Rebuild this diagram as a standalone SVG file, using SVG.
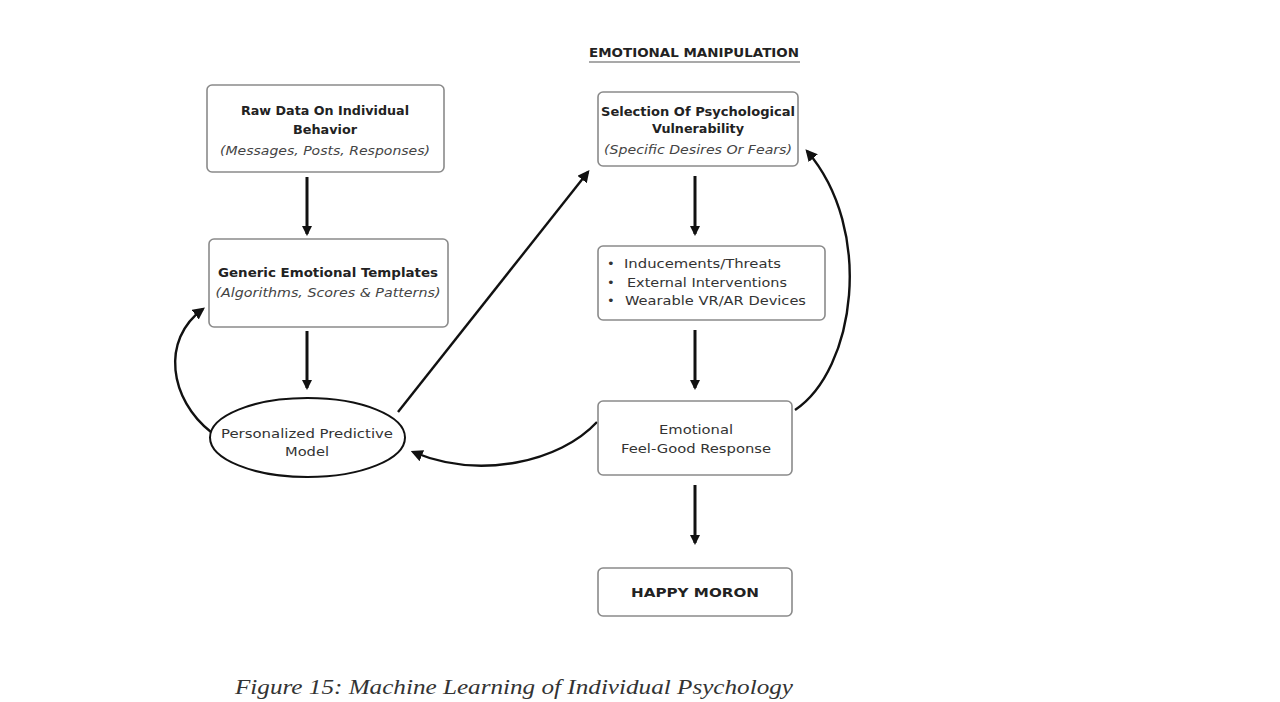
<svg xmlns="http://www.w3.org/2000/svg" width="1280" height="702" viewBox="0 0 1280 702">
<defs>
<marker id="ah" viewBox="0 0 10 10" refX="8" refY="5" markerWidth="3.4" markerHeight="3.4" orient="auto" markerUnits="strokeWidth">
<path d="M0,0 L10,5 L0,10 z" fill="#111"/>
</marker>
<marker id="ah2" viewBox="0 0 10 10" refX="8" refY="5" markerWidth="5" markerHeight="5" orient="auto" markerUnits="strokeWidth">
<path d="M0,0 L10,5 L0,10 z" fill="#111"/>
</marker>
<style>
.box{fill:#fff;stroke:#8a8a8a;stroke-width:1.6}
.t{font-family:"DejaVu Sans",sans-serif;font-size:13px;fill:#333;text-anchor:middle}
.s{font-family:"DejaVu Sans",sans-serif;font-size:13px;fill:#333;text-anchor:start}
.b{font-weight:bold;fill:#222}
.i{font-style:italic;fill:#444}
.c{fill:none;stroke:#111;stroke-width:3;marker-end:url(#ah)}
.cc{fill:none;stroke:#111;stroke-width:2.4;marker-end:url(#ah2)}
</style>
</defs>
<rect width="1280" height="702" fill="#fff"/>
<g id="title">
<text class="t b" x="694" y="57" font-size="14" textLength="210" lengthAdjust="spacingAndGlyphs">EMOTIONAL MANIPULATION</text>
<line x1="589" y1="62" x2="800" y2="62" stroke="#555" stroke-width="1.2"/>
</g>
<g id="connectors">
<line class="c" x1="307" y1="177" x2="307" y2="234"/>
<line class="c" x1="307" y1="331" x2="307" y2="388"/>
<path class="cc" d="M211,432 C170,400 160,340 203,309"/>
<line class="cc" x1="398" y1="412" x2="588" y2="172"/>
<line class="c" x1="695" y1="176" x2="695" y2="234"/>
<line class="c" x1="695" y1="330" x2="695" y2="388"/>
<path class="cc" d="M795,410 C855,370 875,230 807,151"/>
<path class="cc" d="M597,422 C560,462 480,480 413,452"/>
<line class="c" x1="695" y1="485" x2="695" y2="543"/>
</g>
<g id="raw-data">
<rect class="box" x="207" y="85" width="237" height="87" rx="5"/>
<text class="t b" x="325" y="115" textLength="168" lengthAdjust="spacingAndGlyphs">Raw Data On Individual</text>
<text class="t b" x="325" y="134" textLength="64" lengthAdjust="spacingAndGlyphs">Behavior</text>
<text class="t i" x="325" y="155" textLength="210" lengthAdjust="spacingAndGlyphs">(Messages, Posts, Responses)</text>
</g>
<g id="templates">
<rect class="box" x="209" y="239" width="239" height="88" rx="5"/>
<text class="t b" x="328" y="277" textLength="220" lengthAdjust="spacingAndGlyphs">Generic Emotional Templates</text>
<text class="t i" x="328" y="297" textLength="225" lengthAdjust="spacingAndGlyphs">(Algorithms, Scores &amp; Patterns)</text>
</g>
<g id="model">
<ellipse cx="307.5" cy="437.5" rx="97.5" ry="39.5" fill="#fff" stroke="#111" stroke-width="2"/>
<text class="t" x="307" y="438" textLength="172" lengthAdjust="spacingAndGlyphs">Personalized Predictive</text>
<text class="t" x="307" y="456" textLength="44" lengthAdjust="spacingAndGlyphs">Model</text>
</g>
<g id="selection">
<rect class="box" x="598" y="92" width="200" height="74" rx="5"/>
<text class="t b" x="698" y="116" textLength="194" lengthAdjust="spacingAndGlyphs">Selection Of Psychological</text>
<text class="t b" x="698" y="133" textLength="92" lengthAdjust="spacingAndGlyphs">Vulnerability</text>
<text class="t i" x="698" y="154" textLength="188" lengthAdjust="spacingAndGlyphs">(Specific Desires Or Fears)</text>
</g>
<g id="inducements">
<rect class="box" x="598" y="246" width="227" height="74" rx="5"/>
<text class="s" x="607" y="268">•</text>
<text class="s" x="624" y="268" textLength="157" lengthAdjust="spacingAndGlyphs">Inducements/Threats</text>
<text class="s" x="607" y="287">•</text>
<text class="s" x="627" y="287" textLength="160" lengthAdjust="spacingAndGlyphs">External Interventions</text>
<text class="s" x="607" y="305">•</text>
<text class="s" x="625" y="305" textLength="181" lengthAdjust="spacingAndGlyphs">Wearable VR/AR Devices</text>
</g>
<g id="response">
<rect class="box" x="598" y="401" width="194" height="74" rx="5"/>
<text class="t" x="696" y="434" textLength="74" lengthAdjust="spacingAndGlyphs">Emotional</text>
<text class="t" x="696" y="453" textLength="150" lengthAdjust="spacingAndGlyphs">Feel-Good Response</text>
</g>
<g id="happy-moron">
<rect class="box" x="598" y="568" width="194" height="48" rx="5"/>
<text class="t b" x="695" y="597" font-size="16" textLength="128" lengthAdjust="spacingAndGlyphs">HAPPY MORON</text>
</g>
<g id="caption">
<text x="235" y="694" font-family="'Liberation Serif',serif" font-style="italic" font-size="22" fill="#333" textLength="558" lengthAdjust="spacingAndGlyphs">Figure 15: Machine Learning of Individual Psychology</text>
</g>
</svg>
